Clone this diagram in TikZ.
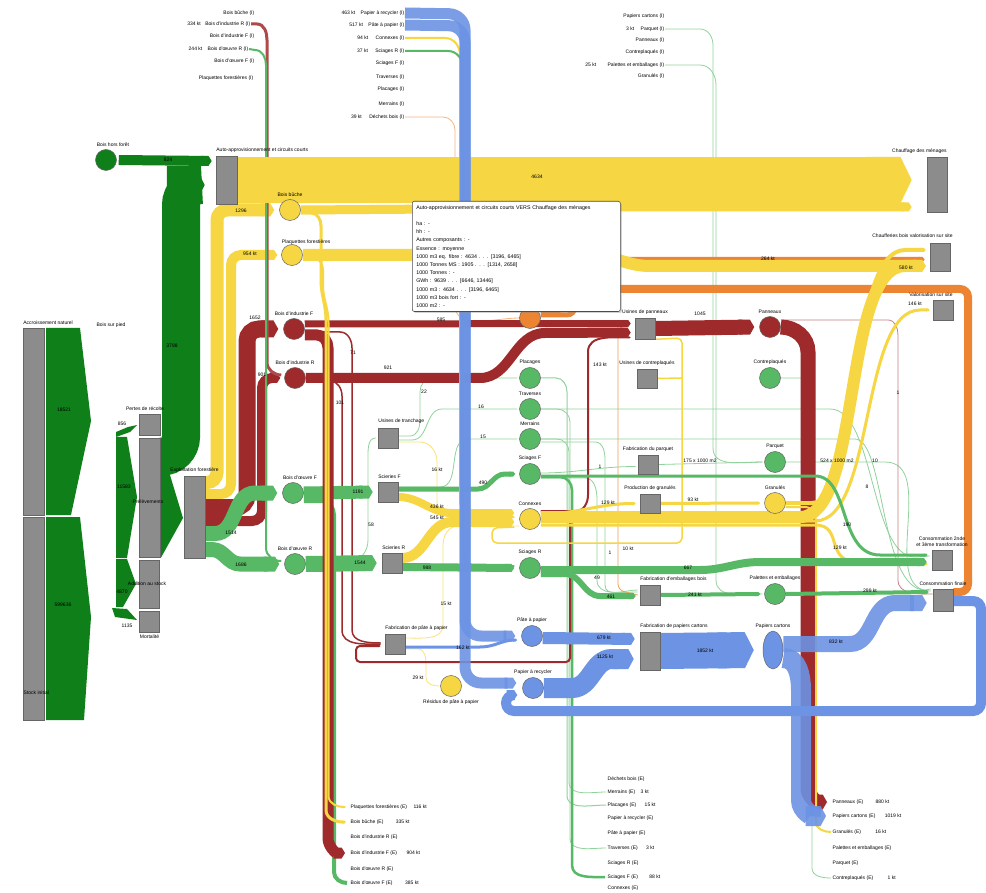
\documentclass[tikz,border=0pt]{standalone}
\usepackage{fontspec}
\setmainfont{Liberation Sans}
\usetikzlibrary{arrows.meta,positioning,shadows,shapes.geometric}

\definecolor{fgreen}{HTML}{0F7F1A}
\definecolor{lgreen}{HTML}{57B865}
\definecolor{pgreen}{HTML}{8FD29B}
\definecolor{wred}{HTML}{9E2A2B}
\definecolor{wyellow}{HTML}{F6D743}
\definecolor{wblue}{HTML}{6C93E4}
\definecolor{worange}{HTML}{EC8431}
\definecolor{boxgray}{HTML}{8C8C8C}

\pgfdeclarelayer{bands}
\pgfdeclarelayer{top}
\pgfsetlayers{bands,main,top}

\begin{document}
\begin{tikzpicture}[x=1pt, y=-1pt,
  box/.style={draw=black!60, fill=boxgray, inner sep=0pt, line width=.6pt},
  circ/.style={circle, draw=black!60, inner sep=0pt, minimum size=21pt, line width=.5pt, fill=#1},
  lbl/.style={font=\fontsize{5}{6}\selectfont, inner sep=.5pt},
  flow/.style 2 args={draw=#1, line width=#2pt, -{Triangle Cap[length=1pt .22]}},
  link/.style 2 args={draw=#1, line width=#2pt},
]
\useasboundingbox (0,0) rectangle (986,893);

% Stock and harvest boxes
\node[box, minimum width=21pt, minimum height=187pt] (accr) at (33.5,421.5) {};
\node[box, minimum width=21pt, minimum height=203pt] (stock) at (34,618.5) {};
\node[box, minimum width=21pt, minimum height=21pt] (pertes) at (150,424.5) {};
\node[box, minimum width=21pt, minimum height=119pt] (prelev) at (150,497.5) {};
\node[box, minimum width=20pt, minimum height=48pt] (addstock) at (149.5,584) {};
\node[box, minimum width=20pt, minimum height=21pt] (mortal) at (149.5,621.5) {};
\node[box, minimum width=21pt, minimum height=82pt] (exploit) at (194.5,517) {};
\node[box, minimum width=21pt, minimum height=48pt] (auto) at (226.5,180) {};

% Processing boxes
\node[box, minimum width=20pt, minimum height=20pt] (utranch) at (388,438) {};
\node[box, minimum width=20pt, minimum height=20pt] (scierF) at (388,492) {};
\node[box, minimum width=20pt, minimum height=20pt] (scierR) at (392,563) {};
\node[box, minimum width=20pt, minimum height=20pt] (fabpate) at (395,644) {};
\node[box, minimum width=20pt, minimum height=21pt] (upann) at (645,328.5) {};
\node[box, minimum width=20pt, minimum height=19pt] (ucontre) at (647,378.5) {};
\node[box, minimum width=20pt, minimum height=19pt] (fabparq) at (648,464.5) {};
\node[box, minimum width=20pt, minimum height=19pt] (prodgran) at (650,503.5) {};
\node[box, minimum width=20pt, minimum height=20pt] (fabemb) at (650,595) {};
\node[box, minimum width=20pt, minimum height=38pt] (fabpap) at (650,651) {};

% Final uses
\node[box, minimum width=20pt, minimum height=55pt] (chauff) at (937,184.5) {};
\node[box, minimum width=20pt, minimum height=28pt] (chaufferie) at (940,257) {};
\node[box, minimum width=20pt, minimum height=20pt] (valor) at (943,310) {};
\node[box, minimum width=20pt, minimum height=20pt] (conso2) at (942,560) {};
\node[box, minimum width=20pt, minimum height=22pt] (consofin) at (943,600) {};

% Products
\node[circ=fgreen] (horsforet) at (106,160) {};
\node[circ=wyellow] (buche) at (290,210) {};
\node[circ=wyellow] (plaq) at (292,255) {};
\node[circ=wred] (indF) at (294,329) {};
\node[circ=wred] (indR) at (295,378) {};
\node[circ=lgreen] (oeuvF) at (293,493) {};
\node[circ=lgreen] (oeuvR) at (295,564) {};
\node[circ=worange] (dechets) at (530,318) {};
\node[circ=lgreen] (placages) at (530,378) {};
\node[circ=lgreen] (traverses) at (530,409) {};
\node[circ=lgreen] (merrains) at (530,439) {};
\node[circ=lgreen] (sciagesF) at (530,474) {};
\node[circ=wyellow] (connexes) at (530,519) {};
\node[circ=lgreen] (sciagesR) at (530,568) {};
\node[circ=wblue] (pate) at (532,636) {};
\node[circ=wblue] (recycler) at (533,688) {};
\node[circ=wyellow] (residus) at (451,686) {};
\node[circ=wred] (panneaux) at (770,327) {};
\node[circ=lgreen] (contreplaques) at (770,378) {};
\node[circ=lgreen] (parquet) at (775,462) {};
\node[circ=wyellow] (granules) at (775,503) {};
\node[circ=lgreen] (palettes) at (775,594) {};
\node[ellipse, draw=black!60, fill=wblue, inner sep=0pt, minimum width=20pt, minimum height=38pt, line width=.5pt] (papcart) at (773,650) {};

% Imports (I)
\node[lbl, anchor=east] (iBuche) at (255,13) {Bois bûche (I)};
\node[lbl, anchor=east] (iIndR) at (251,24) {Bois d'industrie R (I)};
\node[lbl, left=3pt of iIndR] (vIndR) {334 kt};
\node[lbl, anchor=east] (iIndF) at (255,36) {Bois d'industrie F (I)};
\node[lbl, anchor=east] (iOeuvR) at (249,49) {Bois d'œuvre R (I)};
\node[lbl, left=4pt of iOeuvR] (vOeuvR) {244 kt};
\node[lbl, anchor=east] (iOeuvF) at (255,61) {Bois d'œuvre F (I)};
\node[lbl, anchor=east] (iPlaq) at (254,78) {Plaquettes forestières (I)};
\node[lbl, anchor=east] (iRec) at (405,13) {Papier à recycler (I)};
\node[lbl, left=4pt of iRec] (vRec) {463 kt};
\node[lbl, anchor=east] (iPate) at (405,25) {Pâte à papier (I)};
\node[lbl, left=4pt of iPate] (vPate) {517 kt};
\node[lbl, anchor=east] (iConn) at (405,38) {Connexes (I)};
\node[lbl, left=6pt of iConn] (vConn) {94 kt};
\node[lbl, anchor=east] (iSciR) at (405,51) {Sciages R (I)};
\node[lbl, left=6pt of iSciR] (vSciR) {37 kt};
\node[lbl, anchor=east] (iSciF) at (405,63) {Sciages F (I)};
\node[lbl, anchor=east] (iTrav) at (405,77) {Traverses (I)};
\node[lbl, anchor=east] (iPlac) at (405,89) {Placages (I)};
\node[lbl, anchor=east] (iMerr) at (405,104) {Merrains (I)};
\node[lbl, anchor=east] (iDech) at (405,117) {Déchets bois (I)};
\node[lbl, left=6pt of iDech] (vDech) {39 kt};
\node[lbl, anchor=east] (iPapc) at (665,16) {Papiers cartons (I)};
\node[lbl, anchor=east] (iParq) at (665,29) {Parquet (I)};
\node[lbl, left=5pt of iParq] (vParq) {3 kt};
\node[lbl, anchor=east] (iPann) at (665,40) {Panneaux (I)};
\node[lbl, anchor=east] (iContre) at (665,52) {Contreplaqués (I)};
\node[lbl, anchor=east] (iPal) at (665,65) {Palettes et emballages (I)};
\node[lbl, left=10pt of iPal] (vPal) {25 kt};
\node[lbl, anchor=east] (iGran) at (665,76) {Granulés (I)};

% Exports (E)
\node[lbl, anchor=west] (ePlaq) at (350,807) {Plaquettes forestières (E)};
\node[lbl, right=5pt of ePlaq] (wPlaq) {116 kt};
\node[lbl, anchor=west] (eBuche) at (350,822) {Bois bûche (E)};
\node[lbl, right=11pt of eBuche] (wBuche) {335 kt};
\node[lbl, anchor=west] (eIndR) at (350,837) {Bois d'industrie R (E)};
\node[lbl, anchor=west] (eIndF) at (350,853) {Bois d'industrie F (E)};
\node[lbl, right=8pt of eIndF] (wIndF) {904 kt};
\node[lbl, anchor=west] (eOeuvR) at (350,869) {Bois d'œuvre R (E)};
\node[lbl, anchor=west] (eOeuvF) at (350,883) {Bois d'œuvre F (E)};
\node[lbl, right=11pt of eOeuvF] (wOeuvF) {385 kt};
\node[lbl, anchor=west] (eDech) at (607,779) {Déchets bois (E)};
\node[lbl, anchor=west] (eMerr) at (607,792) {Merrains (E)};
\node[lbl, right=4pt of eMerr] (wMerr) {3 kt};
\node[lbl, anchor=west] (ePlac) at (607,805) {Placages (E)};
\node[lbl, right=7pt of ePlac] (wPlac) {15 kt};
\node[lbl, anchor=west] (eRec) at (607,818) {Papier à recycler (E)};
\node[lbl, anchor=west] (ePate) at (607,833) {Pâte à papier (E)};
\node[lbl, anchor=west] (eTrav) at (607,848) {Traverses (E)};
\node[lbl, right=7pt of eTrav] (wTrav) {3 kt};
\node[lbl, anchor=west] (eSciR) at (607,863) {Sciages R (E)};
\node[lbl, anchor=west] (eSciF) at (607,877) {Sciages F (E)};
\node[lbl, right=10pt of eSciF] (wSciF) {88 kt};
\node[lbl, anchor=west] (eConn) at (607,888) {Connexes (E)};
\node[lbl, anchor=west] (ePann) at (832,802) {Panneaux (E)};
\node[lbl, right=11pt of ePann] (wPann) {880 kt};
\node[lbl, anchor=west] (ePapc) at (832,816) {Papiers cartons (E)};
\node[lbl, right=8pt of ePapc] (wPapc) {1019 kt};
\node[lbl, anchor=west] (eGran) at (832,832) {Granulés (E)};
\node[lbl, right=13pt of eGran] (wGran) {16 kt};
\node[lbl, anchor=west] (ePal) at (832,848) {Palettes et emballages (E)};
\node[lbl, anchor=west] (eParq) at (832,863) {Parquet (E)};
\node[lbl, anchor=west] (eContre) at (832,878) {Contreplaqués (E)};
\node[lbl, right=13pt of eContre] (wContre) {1 kt};

\begin{pgfonlayer}{bands}
\fill[white] (0,0) rectangle (986,893);
% thin links
\draw[link={pgreen}{.8}] (iParq.east) -- (700,29) to[out=0,in=90] (713,45) -- (713,448) to[out=-90,in=180] ([xshift=-2pt]parquet.west);
\draw[link={pgreen}{.8}] (iPal.east) -- (700,65) to[out=0,in=90] (716,85) -- (716,580) to[out=-90,in=180] ([xshift=-2pt]palettes.west);
\draw[link={pgreen}{.8}] ([yshift=2pt]utranch.east) -- (410,436) to[out=0,in=-90] (420,420) -- (420,392) to[out=90,in=180] (432,378) -- ([xshift=-2pt]placages.west);
\draw[link={pgreen}{.8}] ([yshift=-2pt]utranch.east) -- (412,440) to[out=0,in=180] (442,409) -- ([xshift=-2pt]traverses.west);
\draw[link={pgreen}{.8}] ([yshift=5pt]scierF.east) -- (440,487) to[out=0,in=180] (468,439) -- ([xshift=-2pt]merrains.west);
\draw[link={pgreen}{.8}] ([yshift=4pt]oeuvR.east) -- (352,560) to[out=0,in=-90] (368,540) -- (368,455) to[out=90,in=180] ([xshift=-2pt]utranch.west);
\draw[link={wyellow!70}{.8}] ([yshift=-4pt]utranch.east) -- (420,442) to[out=0,in=90] (437,462) -- (437,500) to[out=-90,in=180] ([xshift=-6pt,yshift=4pt]connexes.west);
\draw[link={wyellow!70}{.8}] ([yshift=-7pt]connexes.west) -- (458,526) to[out=180,in=90] (443,545) -- (443,625) to[out=-90,in=0] ([yshift=6pt]fabpate.east);
\draw[link={wyellow!70}{.8}] ([yshift=-5pt]fabpate.east) -- (418,649) to[out=0,in=90] (426,665) -- (426,678) to[out=-90,in=180] ([xshift=-1pt]residus.west);
\draw[link={pgreen}{.8}] ([yshift=1pt]sciagesF.east) to[out=0,in=180] ([xshift=-2pt,yshift=-2pt]fabparq.west);
\draw[link={pgreen}{.8}] (fabparq.east) -- ([xshift=-2pt]parquet.west);
\draw[link={pgreen}{.8}] (parquet.east) -- (885,462) to[out=0,in=180] ([xshift=-2pt,yshift=9pt]consofin.west);
\draw[link={pgreen}{.8}] (traverses.east) -- (830,409) .. controls (875,409) and (870,557) .. (915,557) -- ([xshift=-2pt,yshift=4pt]conso2.west);
\draw[link={pgreen}{.8}] (merrains.east) -- (855,439) .. controls (885,439) and (880,590) .. (925,590) -- ([xshift=-2pt,yshift=11pt]consofin.west);
\draw[link={pgreen}{.8}] ([yshift=-4pt]sciagesF.east) -- (585,478) to[out=0,in=90] (597,500) -- (597,580) to[out=-90,in=180] ([xshift=-2pt,yshift=3pt]fabemb.west);
\draw[link={pgreen}{.8}] ([yshift=-3pt]merrains.east) -- (595,442) to[out=0,in=90] (605,460) -- (605,585) to[out=-90,in=180] ([xshift=-2pt,yshift=5pt]fabemb.west);
\draw[link={pgreen}{.8}] (contreplaques.east) -- (800,378) to[out=0,in=90] (812,392) -- (812,868) to[out=-90,in=180] ([xshift=-1pt]eContre.west);
\draw[link={pgreen}{1}] (placages.east) -- (556,378) to[out=0,in=90] (567,392) -- (567,795) to[out=-90,in=180] ([xshift=-1pt]ePlac.west);
\draw[link={pgreen}{.8}] (merrains.east) -- (557,439) to[out=0,in=90] (569,452) -- (569,782) to[out=-90,in=180] ([xshift=-1pt]eMerr.west);
\draw[link={pgreen}{.8}] (traverses.east) -- (557,409) to[out=0,in=90] (570,422) -- (570,838) to[out=-90,in=180] ([xshift=-1pt]eTrav.west);
\draw[link={lgreen}{2.5}] ([yshift=-3pt]sciagesF.east) -- (560,477) to[out=0,in=90] (572,490) -- (572,865) to[out=-90,in=180] ([xshift=-2pt]eSciF.west);
\draw[link={wred!60}{.8}] ([yshift=7pt]panneaux.east) -- (888,320) to[out=0,in=90] (898,335) -- (898,580) to[out=-90,in=180] ([yshift=6pt]consofin.west);
\draw[link={worange!60}{.8}] (iDech.east) -- (443,117) to[out=0,in=90] (455,130) -- (455,305) to[out=-90,in=180] (dechets.west);

% orange
\draw[link={worange}{8}, rounded corners=8pt] ([yshift=6pt]dechets.east) -- (560,312) -- (560,289) -- (968,289) -- (968,592) -- ([yshift=8pt]consofin.east);
\draw[flow={worange}{5}, rounded corners=8pt] ([yshift=3pt]dechets.east) -- (575,315) -- (575,259.5) -- ([xshift=-5pt,yshift=-2.5pt]chaufferie.west);
\draw[link={worange!80}{.8}, rounded corners=6pt] ([yshift=-3pt]dechets.east) -- (618,321) -- (618,590) -- ([xshift=-2pt]fabemb.west);

% green from the stock
\fill[fgreen] (46,328) -- (80,328) -- (91,421) -- (71,515) -- (46,515) -- cycle;
\fill[fgreen] (46,517) -- (80,517) -- (91,617) -- (84,720) -- (46,720) -- cycle;
\fill[fgreen] (116,432) -- (128,427) -- (137,425) -- (130,432) -- (116,437) -- cycle;
\fill[fgreen] (116,437) -- (127,437) -- (137,497) -- (127,558) -- (116,558) -- cycle;
\fill[fgreen] (116,559) -- (127,559) -- (136,584) -- (123,607) -- (116,607) -- cycle;
\fill[fgreen] (112,608) -- (127,609) -- (137,620) -- (115,617) -- cycle;
\fill[fgreen] (prelev.east |- 0,475) -- (170,475) -- (183,518) -- (prelev.east |- 0,558) -- cycle;
\draw[flow={fgreen}{38}, rounded corners=20pt] ([yshift=-19pt]prelev.north east) -- (181,457) -- (181,185) -- ([xshift=-11pt,yshift=-5pt]auto.west);
\draw[flow={fgreen}{10}] ([xshift=2pt]horsforet.east) -- ([xshift=-4pt,yshift=19pt]auto.west);

% exploitation forestiere
\draw[flow={wyellow}{13}, rounded corners=10pt] ([yshift=34.5pt]exploit.east) -- (217,482.5) -- (217,210) -- ([xshift=-5pt]buche.west);
\draw[flow={wyellow}{10}, rounded corners=10pt] ([yshift=23pt]exploit.east) -- (231,494) -- (231,255) -- ([xshift=-4pt]plaq.west);
\draw[flow={wred}{17}, rounded corners=12pt] ([yshift=9.5pt]exploit.east) -- (247,507.5) -- (247,329) -- ([xshift=-5pt]indF.west);
\draw[flow={wred}{10}, rounded corners=10pt] ([yshift=-4pt]exploit.east) -- (262,521) -- (262,378) -- ([xshift=-4pt]indR.west);
\draw[flow={lgreen}{15}] ([yshift=-16.5pt]exploit.east) -- (215,533.5) to[out=0,in=180] (255,493) -- ([xshift=-5pt]oeuvF.west);
\draw[flow={lgreen}{15}] ([yshift=-32.5pt]exploit.east) -- (212,549.5) to[out=0,in=180] (240,564) -- ([xshift=-5pt]oeuvR.west);
\draw[link={wred!85}{3}] (iIndR.east) -- (257,24) to[out=0,in=90] (267,40) -- (267,362) to[out=-90,in=180] ([xshift=-3pt,yshift=3pt]indR.west);
\draw[link={lgreen}{2}] (iOeuvR.east) -- (255,50) to[out=0,in=90] (266,65) -- (266,548) to[out=-90,in=180] ([xshift=-3pt,yshift=3pt]oeuvR.west);

% auto-approvisionnement, bois buche and plaquettes
\draw[flow={wyellow}{9}] (buche.east) -- (440,209) to[out=0,in=180] (560,207) -- ([xshift=-15pt,yshift=-22.5pt]chauff.west);
\draw[flow={wyellow}{46}] (auto.east) -- ([xshift=-15pt,yshift=4.5pt]chauff.west);
\draw[flow={wyellow}{12}] (plaq.east) -- (590,255) to[out=0,in=180] (650,266) -- ([xshift=-4pt,yshift=-9pt]chaufferie.west);

% industry wood
\draw[flow={wred}{7}] ([yshift=5pt]indF.east) -- ([xshift=-4pt,yshift=5pt]upann.west);
\draw[flow={wred}{10}] (indR.east) -- (480,378) to[out=0,in=180] (545,333) -- ([xshift=-4pt,yshift=-4pt]upann.west);
\draw[link={wred}{1.5}] ([yshift=-3pt]indF.east) -- (340,332) to[out=0,in=90] (352,348) -- (352,630) to[out=-90,in=180] ([xshift=-4pt,yshift=1pt]fabpate.west);
\draw[link={wred}{1.5}] ([yshift=-3pt]indR.east) -- (330,381) to[out=0,in=90] (342,396) -- (342,630) to[out=-90,in=180] ([xshift=-4pt]fabpate.west);
\draw[flow={wred}{2}, rounded corners=4pt] ([yshift=8pt]connexes.east) -- (570,511) -- (570,662) -- (356,662) -- (356,646) -- ([xshift=-4pt,yshift=-2pt]fabpate.west);
\draw[flow={wred}{2}] ([yshift=8pt]connexes.east) -- (576,511) to[out=0,in=-90] (588,495) -- (588,352) to[out=90,in=180] ([xshift=-4pt,yshift=-9pt]upann.west);
\draw[flow={wred}{15}] (upann.east) -- ([xshift=-5pt]panneaux.west);
\draw[flow={wred}{15}] (panneaux.east) to[out=0,in=90] (808,352) -- (808,788) to[out=-90,in=180] ([xshift=-5pt]ePann.west);

% sawmills
\draw[flow={lgreen}{13}] (oeuvF.east) -- ([xshift=-5pt]scierF.west);
\draw[flow={lgreen}{16}] (oeuvR.east) -- ([xshift=-5pt]scierR.west);
\draw[flow={lgreen}{8}] ([yshift=-4pt]scierR.east) -- ([xshift=-5pt]sciagesR.west);
\draw[flow={lgreen}{5}] ([yshift=3pt]scierF.east) -- (478,489) to[out=0,in=180] (505,474) -- ([xshift=-4pt]sciagesF.west);
\draw[flow={wyellow}{10}] ([yshift=5pt]scierR.east) to[out=0,in=180] (452,522) -- ([xshift=-5pt,yshift=-3pt]connexes.west);
\draw[flow={wyellow}{8}] ([yshift=-5pt]scierF.east) to[out=0,in=180] (452,513) -- ([xshift=-5pt,yshift=6pt]connexes.west);

% connexes
\draw[link={wyellow}{1.5}, rounded corners=5pt] (upann.south east) -- (682,338) -- (682,543) -- (492,543) -- (492,528) -- ([xshift=-5pt,yshift=-8pt]connexes.west);
\draw[link={wyellow}{1.5}] (ucontre.east) -- (682,378);
\draw[flow={wyellow}{3}] ([yshift=5pt]connexes.east) to[out=0,in=180] ([xshift=-4pt]prodgran.west);
\draw[flow={wyellow}{3}] (prodgran.east) -- ([xshift=-4pt]granules.west);
\draw[flow={wyellow}{12}] ([yshift=2pt]connexes.east) -- (800,517) .. controls (862,517) and (842,266) .. (905,266) -- ([xshift=-4pt,yshift=-9pt]chaufferie.west);
\draw[flow={wyellow}{4}] (granules.east) -- (812,503) .. controls (862,503) and (846,250) .. (905,250) -- ([xshift=-4pt,yshift=7pt]chaufferie.west);
\draw[flow={wyellow}{3}] ([yshift=-2pt]connexes.east) -- (815,521) .. controls (875,521) and (860,310) .. (920,310) -- ([xshift=-3pt]valor.west);
\draw[flow={wyellow}{3}] ([yshift=-6pt]connexes.east) -- (815,525) .. controls (845,525) and (822,563) .. (862,563) -- ([xshift=-4pt,yshift=-4pt]conso2.west);
\draw[link={wyellow}{2}] ([yshift=-4pt]granules.east) -- (805,507) to[out=0,in=90] (816,522) -- (816,822) to[out=-90,in=180] ([xshift=-1pt]eGran.west);

% sawn wood and packaging
\draw[flow={lgreen}{8}] ([yshift=-2pt]sciagesR.east) -- (700,570) to[out=0,in=180] (760,562) -- ([xshift=-5pt,yshift=-2pt]conso2.west);
\draw[flow={lgreen}{3}] ([yshift=-2pt]sciagesF.east) -- (815,476) .. controls (850,476) and (838,555) .. (880,555) -- ([xshift=-4pt,yshift=5pt]conso2.west);
\draw[flow={lgreen}{6}] ([yshift=-6pt]sciagesR.east) -- (565,574) to[out=0,in=180] (600,596) -- ([xshift=-4pt,yshift=-1pt]fabemb.west);
\draw[flow={lgreen}{4}] (fabemb.east) -- ([xshift=-4pt]palettes.west);
\draw[flow={lgreen}{4}] (palettes.east) -- ([xshift=-4pt,yshift=8pt]consofin.west);

% exports of round wood
\draw[link={lgreen}{4}] ([yshift=-8pt]oeuvF.east) -- (322,501) to[out=0,in=90] (334,515) -- (334,872) to[out=-90,in=180] ([xshift=-3pt]eOeuvF.west);
\draw[flow={wred}{11}] ([yshift=-6pt]indF.east) -- (317,335) to[out=0,in=90] (328,348) -- (328,838) to[out=-90,in=180] ([xshift=-5pt]eIndF.west);
\draw[flow={wyellow}{3}] ([yshift=-3pt]buche.east) -- (311,213) to[out=0,in=90] (321,226) -- (321,280) to[out=-90,in=90] (326,320) -- (326,810) to[out=-90,in=180] ([xshift=-4pt]eBuche.west);
\draw[flow={wyellow}{2}] ([yshift=-3pt]plaq.east) -- (313,258) to[out=0,in=90] (323,270) -- (323,285) to[out=-90,in=90] (328.5,322) -- (328.5,796) to[out=-90,in=180] ([xshift=-4pt]ePlaq.west);

% paper and board
\draw[link={wyellow}{2}] (iConn.east) -- (445,38) to[out=0,in=90] (460,55) -- (460,500) to[out=-90,in=180] ([xshift=-5pt,yshift=2pt]connexes.west);
\draw[link={lgreen}{2}] (iSciR.east) -- (448,51) to[out=0,in=90] (463,68) -- (463,552) to[out=-90,in=180] ([xshift=-5pt,yshift=2pt]sciagesR.west);
\begin{scope}[opacity=.9]
\draw[flow={wblue}{11}, rounded corners=16pt] (iRec.east) -- (465,14) -- (465,683) -- ([xshift=-6pt,yshift=5pt]recycler.west);
\draw[flow={wblue}{11}, rounded corners=16pt] (iPate.east) -- (465,26) -- (465,636) -- ([xshift=-6pt]pate.west);
\end{scope}
\draw[flow={wblue}{3}] ([yshift=-3pt]fabpate.east) -- (480,647) to[out=0,in=180] ([xshift=-4pt,yshift=-4pt]pate.west);
\draw[flow={wblue}{10}, rounded corners=8pt] ([yshift=-1pt]consofin.east) -- (981,601) -- (981,711) -- (506,711) -- (506,695) -- ([xshift=-5pt,yshift=-7pt]recycler.west);
\draw[flow={wblue}{12}] ([yshift=-2pt]pate.east) -- ([xshift=-5pt,yshift=12pt]fabpap.west);
\draw[flow={wblue}{20}] (recycler.east) -- (572,688) to[out=0,in=180] (612,659) -- ([xshift=-6pt,yshift=-8pt]fabpap.west);
\draw[flow={wblue}{36}] (fabpap.east) -- ([xshift=-9pt]papcart.west);
\begin{scope}[opacity=.9]
\draw[flow={wblue}{16}] ([yshift=6pt]papcart.east) -- (850,644) to[out=0,in=180] (895,603) -- ([xshift=-6pt,yshift=-3pt]consofin.west);
\draw[flow={wblue}{20}] ([yshift=-8pt]papcart.east) to[out=0,in=90] (801,690) -- (801,800) to[out=-90,in=180] ([xshift=-6pt]ePapc.west);
\end{scope}
\end{pgfonlayer}

% Node labels
\node[lbl, anchor=south west] (tAccr) at ([yshift=2pt]accr.north west) {Accroissement naturel};
\node[lbl, anchor=west] (tStock) at (23,693) {Stock initial};
\node[lbl] (tPied) at (111,325) {Bois sur pied};
\node[lbl, above=2pt of pertes, xshift=-5pt] (tPertes) {Pertes de récolte};
\node[lbl] (tPrelev) at (148,502) {Prélèvements};
\node[lbl, text=black!45] (tPrelevV) at (151,527) {8201};
\node[lbl] (tAdd) at (147,584) {Addition au stock};
\node[lbl, below=2pt of mortal] (tMort) {Mortalité};
\node[lbl, above=2pt of exploit] (tExploit) {Exploitation forestière};
\node[lbl, above=2pt of horsforet, xshift=7pt] (tHors) {Bois hors forêt};
\node[lbl, anchor=south west] (tAuto) at ([yshift=2pt]auto.north west) {Auto-approvisionnement et circuits courts};
\node[lbl, anchor=south east] (tChauff) at ([yshift=2pt]chauff.north east) {Chauffage des ménages};
\node[lbl, anchor=south east] (tChaufferie) at ([xshift=3pt,yshift=4pt]chaufferie.north east) {Chaufferies bois valorisation sur site};
\node[lbl, anchor=south east] (tValor) at ([yshift=2pt]valor.north east) {Valorisation sur site};
\node[lbl, above=2pt of buche] (tBuche) {Bois bûche};
\node[lbl, anchor=south west] (tPlaq) at ([yshift=10pt]plaq.west) {Plaquettes forestières};
\node[lbl, above=2pt of indF] (tIndF) {Bois d'industrie F};
\node[lbl, above=2pt of indR] (tIndR) {Bois d'industrie R};
\node[lbl, above=2pt of oeuvF, xshift=7pt] (tOeuvF) {Bois d'œuvre F};
\node[lbl, above=2pt of oeuvR] (tOeuvR) {Bois d'œuvre R};
\node[lbl, anchor=south west] (tTranch) at ([yshift=3pt]utranch.north west) {Usines de tranchage};
\node[lbl, anchor=south west] (tScierF) at ([yshift=2pt]scierF.north west) {Scieries F};
\node[lbl, anchor=south west] (tScierR) at ([yshift=2pt]scierR.north west) {Scieries R};
\node[lbl, anchor=south west] (tFabpate) at ([yshift=2pt]fabpate.north west) {Fabrication de pâte à papier};
\node[lbl, below=2pt of residus] (tResidus) {Résidus de pâte à papier};
\node[lbl, above=2pt of placages] (tPlacages) {Placages};
\node[lbl, above=2pt of traverses] (tTraverses) {Traverses};
\node[lbl, above=2pt of merrains] (tMerrains) {Merrains};
\node[lbl, above=2pt of sciagesF] (tSciagesF) {Sciages F};
\node[lbl, above=2pt of connexes] (tConnexes) {Connexes};
\node[lbl, above=2pt of sciagesR] (tSciagesR) {Sciages R};
\node[lbl, above=2pt of pate] (tPate) {Pâte à papier};
\node[lbl, above=2pt of recycler] (tRecycler) {Papier à recycler};
\node[lbl, above=2pt of upann] (tUpann) {Usines de panneaux};
\node[lbl, above=2pt of ucontre] (tUcontre) {Usines de contreplaqués};
\node[lbl, above=2pt of fabparq] (tFabparq) {Fabrication du parquet};
\node[lbl, above=2pt of prodgran] (tProdgran) {Production de granulés};
\node[lbl, anchor=south west] (tFabemb) at ([yshift=2pt]fabemb.north west) {Fabrication d'emballages bois};
\node[lbl, anchor=south west] (tFabpap) at ([yshift=2pt]fabpap.north west) {Fabrication de papiers cartons};
\node[lbl, above=2pt of panneaux] (tPanneaux) {Panneaux};
\node[lbl, above=2pt of contreplaques] (tContre) {Contreplaqués};
\node[lbl, above=2pt of parquet] (tParquet) {Parquet};
\node[lbl, above=2pt of granules] (tGranules) {Granulés};
\node[lbl, above=2pt of palettes] (tPalettes) {Palettes et emballages};
\node[lbl, above=2pt of papcart] (tPapcart) {Papiers cartons};
\node[lbl, above=2pt of conso2, align=center] (tConso2) {Consommation 2nde\\et 3ème transformation};
\node[lbl, above=2pt of consofin] (tConsofin) {Consommation finale};

% Flow values
\node[lbl] (n1) at (64,410) {18521};
\node[lbl] (n2) at (63,605) {599636};
\node[lbl] (n3) at (122,424) {856};
\node[lbl] (n4) at (124,487) {11583};
\node[lbl] (n5) at (122,592) {4870};
\node[lbl] (n6) at (127,626) {1135};
\node[lbl] (n7) at (172,346) {3788};
\node[lbl] (n8) at (168,160) {824};
\node[lbl] (n9) at (537,177) {4634};
\node[lbl] (n10) at (241,211) {1296};
\node[lbl] (n11) at (250,254) {954 kt};
\node[lbl] (n12) at (255,318) {1652};
\node[lbl] (n13) at (262,375) {901};
\node[lbl] (n14) at (231,533) {1514};
\node[lbl] (n15) at (241,565) {1686};
\node[lbl] (n16) at (441,320) {585};
\node[lbl] (n17) at (388,368) {921};
\node[lbl] (n18) at (353,353) {71};
\node[lbl] (n19) at (340,403) {101};
\node[lbl] (n20) at (424,392) {22};
\node[lbl] (n21) at (481,407) {16};
\node[lbl] (n22) at (483,437) {15};
\node[lbl] (n23) at (437,470) {16 kt};
\node[lbl] (n24) at (371,525) {58};
\node[lbl] (n25) at (358,492) {1191};
\node[lbl] (n26) at (360,563) {1544};
\node[lbl] (n27) at (483,483) {490};
\node[lbl] (n28) at (437,507) {436 kt};
\node[lbl] (n29) at (437,518) {545 kt};
\node[lbl] (n30) at (427,568) {988};
\node[lbl] (n31) at (446,604) {15 kt};
\node[lbl] (n32) at (463,648) {162 kt};
\node[lbl] (n33) at (418,678) {29 kt};
\node[lbl] (n34) at (700,314) {1045};
\node[lbl] (n35) at (600,365) {143 kt};
\node[lbl] (n36) at (600,467) {1};
\node[lbl] (n37) at (700,461) {175 x 1000 m2};
\node[lbl] (n38) at (837,461) {524 x 1000 m2};
\node[lbl] (n39) at (875,461) {10};
\node[lbl] (n40) at (898,393) {1};
\node[lbl] (n41) at (608,503) {129 kt};
\node[lbl] (n42) at (693,500) {93 kt};
\node[lbl] (n43) at (867,487) {8};
\node[lbl] (n44) at (847,525) {190};
\node[lbl] (n45) at (840,548) {129 kt};
\node[lbl] (n46) at (610,553) {1};
\node[lbl] (n47) at (628,549) {10 kt};
\node[lbl] (n48) at (597,578) {49};
\node[lbl] (n49) at (688,568) {667};
\node[lbl] (n50) at (611,597) {461};
\node[lbl] (n51) at (695,595) {241 kt};
\node[lbl] (n52) at (870,591) {299 kt};
\node[lbl] (n53) at (604,638) {679 kt};
\node[lbl] (n54) at (605,657) {1125 kt};
\node[lbl] (n55) at (705,651) {1852 kt};
\node[lbl] (n56) at (836,642) {832 kt};
\node[lbl] (n57) at (768,259) {264 kt};
\node[lbl] (n58) at (906,268) {580 kt};
\node[lbl] (n59) at (915,304) {146 kt};

% Tooltip
\begin{pgfonlayer}{top}
\node[draw=black!70, fill=white, rounded corners=2pt, line width=.6pt,
  drop shadow={shadow xshift=1.5pt, shadow yshift=-1.5pt, opacity=.35},
  anchor=north west, text width=200pt, align=left, inner sep=4pt,
  font=\fontsize{5.3}{8.2}\selectfont] (tip) at (412,201)
{Auto-approvisionnement et circuits courts VERS Chauffage des ménages\\[8pt]
ha : -\\
hh : -\\
Autres composants : -\\
Essence : moyenne\\
1000 m3 eq. fibre : 4634 . . . [3196, 6465]\\
1000 Tonnes MS : 1905 . . . [1314, 2658]\\
1000 Tonnes : -\\
GWh : 9639 . . . [6646, 13446]\\
1000 m3 : 4634 . . . [3196, 6465]\\
1000 m3 bois fort : -\\
1000 m2 : -};
\end{pgfonlayer}
\end{tikzpicture}
\end{document}
